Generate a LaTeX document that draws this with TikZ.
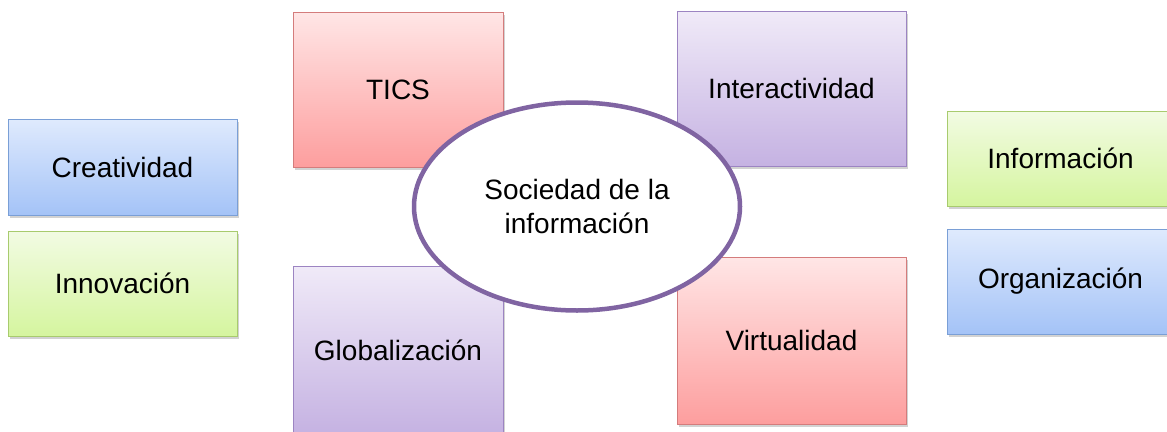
\documentclass[tikz,border=0pt]{standalone}
\usepackage{fontspec}
\setmainfont{Liberation Sans}
\usetikzlibrary{shapes.geometric,shadows}

\definecolor{bluetop}{HTML}{DFEAFD}
\definecolor{bluebot}{HTML}{A4C3F7}
\definecolor{bluedraw}{HTML}{7A9FD6}
\definecolor{greentop}{HTML}{F2FBE3}
\definecolor{greenbot}{HTML}{D5F59F}
\definecolor{greendraw}{HTML}{A8CB6E}
\definecolor{redtop}{HTML}{FFE6E6}
\definecolor{redbot}{HTML}{FD9E9E}
\definecolor{reddraw}{HTML}{D47C7C}
\definecolor{purpletop}{HTML}{F0EAF8}
\definecolor{purplebot}{HTML}{C5B2E2}
\definecolor{purpledraw}{HTML}{9C84C2}
\definecolor{ellipsedraw}{HTML}{8064A2}

\tikzset{
  concept/.style={rectangle, draw, line width=1pt, inner sep=0pt,
    font=\fontsize{28}{34}\selectfont,
    drop shadow={shadow xshift=2pt, shadow yshift=-2.5pt, opacity=0.35}},
  bluebox/.style={concept, draw=bluedraw, top color=bluetop, bottom color=bluebot},
  greenbox/.style={concept, draw=greendraw, top color=greentop, bottom color=greenbot},
  redbox/.style={concept, draw=reddraw, top color=redtop, bottom color=redbot},
  purplebox/.style={concept, draw=purpledraw, top color=purpletop, bottom color=purplebot},
  hub/.style={ellipse, draw=ellipsedraw, line width=4.5pt, fill=white, inner sep=0pt,
    align=center, font=\fontsize{28}{34}\selectfont}
}

\begin{document}
\begin{tikzpicture}[x=1pt, y=-1pt]
            \clip (0,0) rectangle (1167,431);
            \fill[white] (0,0) rectangle (1167,431);

            % left column
            \node (creatividad) [bluebox, minimum width=229pt, minimum height=96pt] at (122.5,167) {Creatividad};
            \node (innovacion) [greenbox, minimum width=229pt, minimum height=105pt] at (122.5,283.5) {Innovación};

            % inner boxes
            \node (tics) [redbox, minimum width=210pt, minimum height=155pt] at (398,89.5) {TICS};
            \node (globalizacion) [purplebox, minimum width=210pt, minimum height=168pt] at (398,350) {Globalización};
            \node (interactividad) [purplebox, minimum width=229pt, minimum height=155pt] at (791.5,88.5) {Interactividad};
            \node (virtualidad) [redbox, minimum width=229pt, minimum height=167pt] at (791.5,340.5) {Virtualidad};

            % right column
            \node (informacion) [greenbox, minimum width=227pt, minimum height=95pt] at (1060.5,158.5) {Información};
            \node (organizacion) [bluebox, minimum width=227pt, minimum height=105pt] at (1060.5,281.5) {Organización};

            % centre
            \node (sociedad) [hub, minimum width=326pt, minimum height=208pt] at (577,206.5) {Sociedad de la\\información};
        \end{tikzpicture}
\end{document}
